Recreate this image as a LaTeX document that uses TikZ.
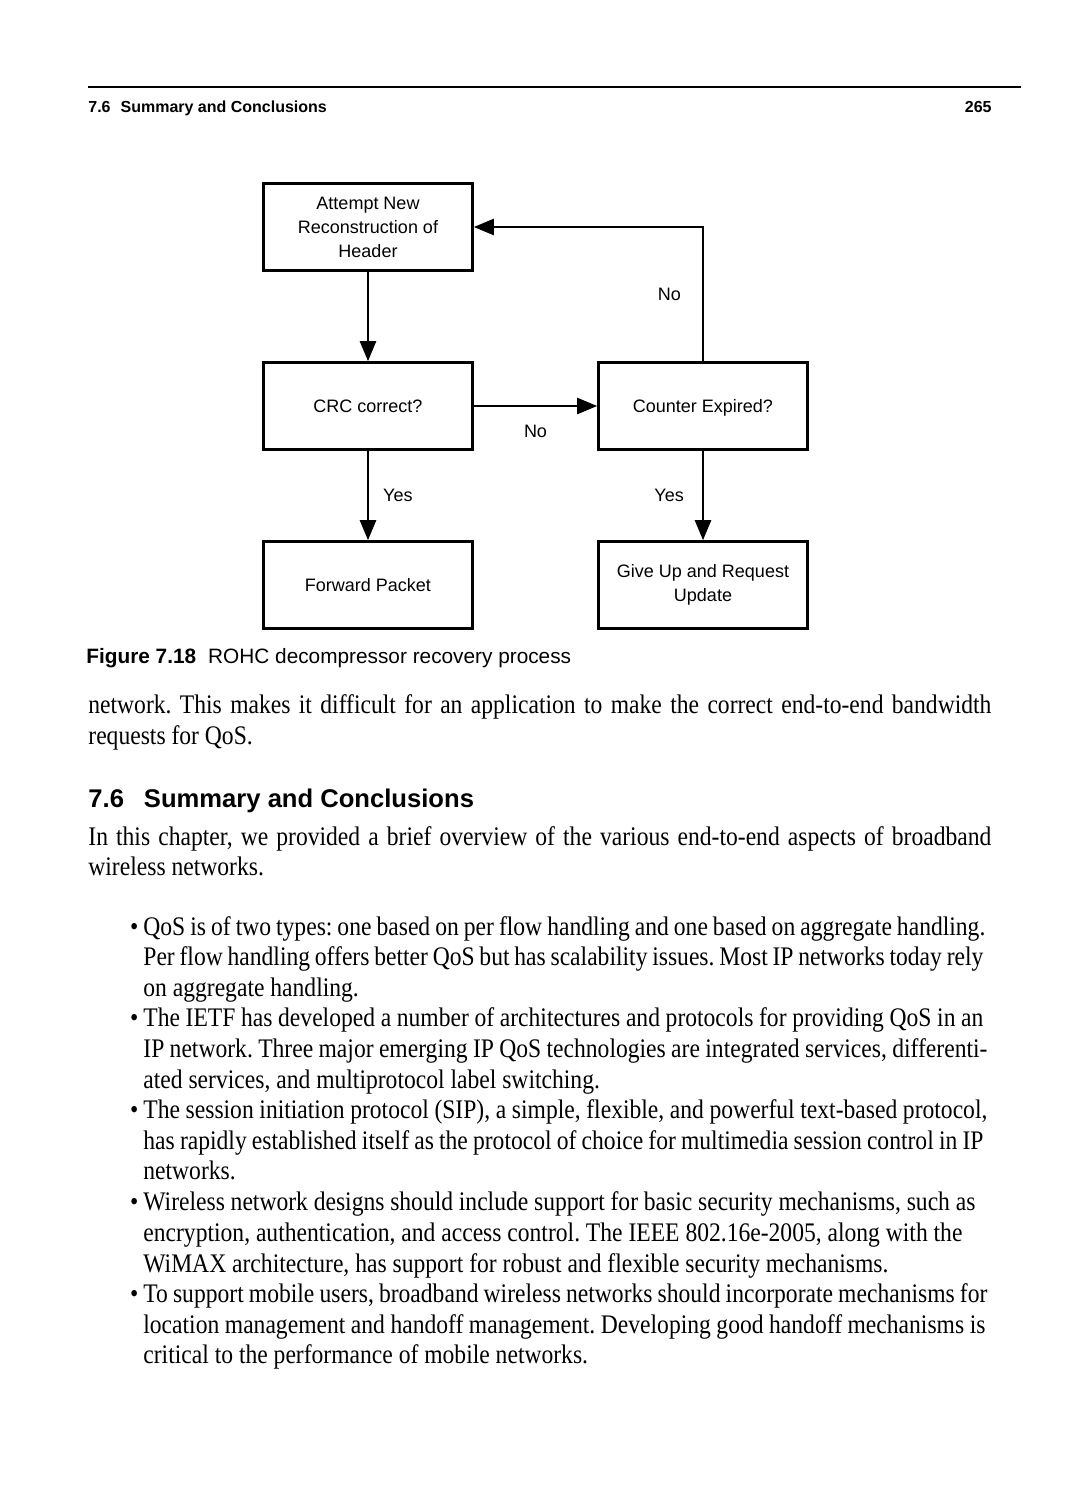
\documentclass[tikz,border=0pt]{standalone}
\usepackage{fontspec}
\setmainfont{Liberation Serif}[FakeStretch=0.88]
\setsansfont{Liberation Sans}
\usetikzlibrary{arrows.meta}
\frenchspacing

\tikzset{
  box/.style={draw, line width=1.3pt, minimum width=104.5pt, minimum height=43.5pt,
    inner sep=0pt, align=center, font=\sffamily\fontsize{9}{12}\selectfont},
  flow/.style={line width=1.2pt, -{Triangle[length=10pt, width=8pt]}},
  lbl/.style={inner sep=0pt, font=\sffamily\fontsize{9}{12}\selectfont},
  body/.style={anchor=base west, inner sep=0pt, font=\fontsize{13.4}{15.5}\selectfont},
}
\newcommand{\jline}[2]{\makebox[#1][s]{#2}}
\newcommand{\bul}{\llap{\textbullet\hspace{2.5pt}}}
\newcommand{\boxstrut}{\rule[-2.2pt]{0pt}{10.8pt}}

\begin{document}
\begin{tikzpicture}[x=0.5pt, y=-0.5pt]

\fill [white] (0,0) rectangle (1078,1500);
\path [use as bounding box] (0,0) rectangle (1078,1500);

% HEADER
\draw [line width=0.9pt] (88,87) -- (1021,87);
\node [anchor=base west, inner sep=0pt, font=\sffamily\bfseries\fontsize{8}{10}\selectfont]
	(runhead) at (88,112) {7.6\hspace{5pt}Summary and Conclusions};
\node [anchor=base east, inner sep=0pt, font=\sffamily\bfseries\fontsize{8}{10}\selectfont]
	(pageno) at (992,112) {265};

% BOXES
\node [box] (attempt) at (368,227) {Attempt New\\Reconstruction of\\Header};
\node [box] (crc) at (368,406) {\boxstrut CRC correct?};
\node [box] (counter) at (703,406) {\boxstrut Counter Expired?};
\node [box] (forward) at (368,585) {\boxstrut Forward Packet};
\node [box] (giveup) at (703,585) {Give Up and Request\\Update};

% ARROWS
\draw [flow] (attempt) -- (crc);
\draw [flow] (crc) -- node[lbl, below=9pt] {No} (counter);
\draw [flow] (crc) -- node[lbl, right=7pt] {Yes} (forward);
\draw [flow] (counter) -- node[lbl, left=9pt] {Yes} (giveup);
\draw [flow] (counter.north) |- node[lbl, pos=0.25, left=10.5pt] {No} (attempt.east);

% CAPTION
\node [anchor=base west, inner sep=0pt, font=\sffamily\fontsize{10.4}{13}\selectfont]
	(caption) at (86,663) {\textbf{Figure 7.18}\hspace{6pt}ROHC decompressor recovery process};

% TEXT
\node [body] (pa) at (88,713) {\jline{451.5pt}{network. This makes it difficult for an application to make the correct end-to-end bandwidth}};
\node [body] (pb) at (88,744) {requests for QoS.};

\node [anchor=base west, inner sep=0pt, font=\sffamily\bfseries\fontsize{12.8}{15}\selectfont]
	(sechead) at (88,807) {7.6\hspace{10pt}Summary and Conclusions};

\node [body] (pc) at (88,845) {\jline{451.5pt}{In this chapter, we provided a brief overview of the various end-to-end aspects of broadband}};
\node [body] (pd) at (88,875) {wireless networks.};

% BULLETS
\node [body] (ba1) at (143,935) {\jline{421pt}{\bul QoS is of two types: one based on per flow handling and one based on aggregate handling.}};
\node [body] (ba2) at (143,965) {\jline{420pt}{Per flow handling offers better QoS but has scalability issues. Most IP networks today rely}};
\node [body] (ba3) at (143,996) {on aggregate handling.};
\node [body] (bb1) at (143,1026) {\jline{420pt}{\bul The IETF has developed a number of architectures and protocols for providing QoS in an}};
\node [body] (bb2) at (143,1057) {\jline{422pt}{IP network. Three major emerging IP QoS technologies are integrated services, differenti-}};
\node [body] (bb3) at (143,1088) {ated services, and multiprotocol label switching.};
\node [body] (bc1) at (143,1118) {\jline{422pt}{\bul The session initiation protocol (SIP), a simple, flexible, and powerful text-based protocol,}};
\node [body] (bc2) at (143,1149) {\jline{420pt}{has rapidly established itself as the protocol of choice for multimedia session control in IP}};
\node [body] (bc3) at (143,1179) {networks.};
\node [body] (bd1) at (143,1210) {\jline{416pt}{\bul Wireless network designs should include support for basic security mechanisms, such as}};
\node [body] (bd2) at (143,1241) {\jline{409.5pt}{encryption, authentication, and access control. The IEEE 802.16e-2005, along with the}};
\node [body] (bd3) at (143,1272) {WiMAX architecture, has support for robust and flexible security mechanisms.};
\node [body] (be1) at (143,1302) {\jline{422pt}{\bul To support mobile users, broadband wireless networks should incorporate mechanisms for}};
\node [body] (be2) at (143,1333) {\jline{421pt}{location management and handoff management. Developing good handoff mechanisms is}};
\node [body] (be3) at (143,1363) {critical to the performance of mobile networks.};

\end{tikzpicture}
\end{document}
